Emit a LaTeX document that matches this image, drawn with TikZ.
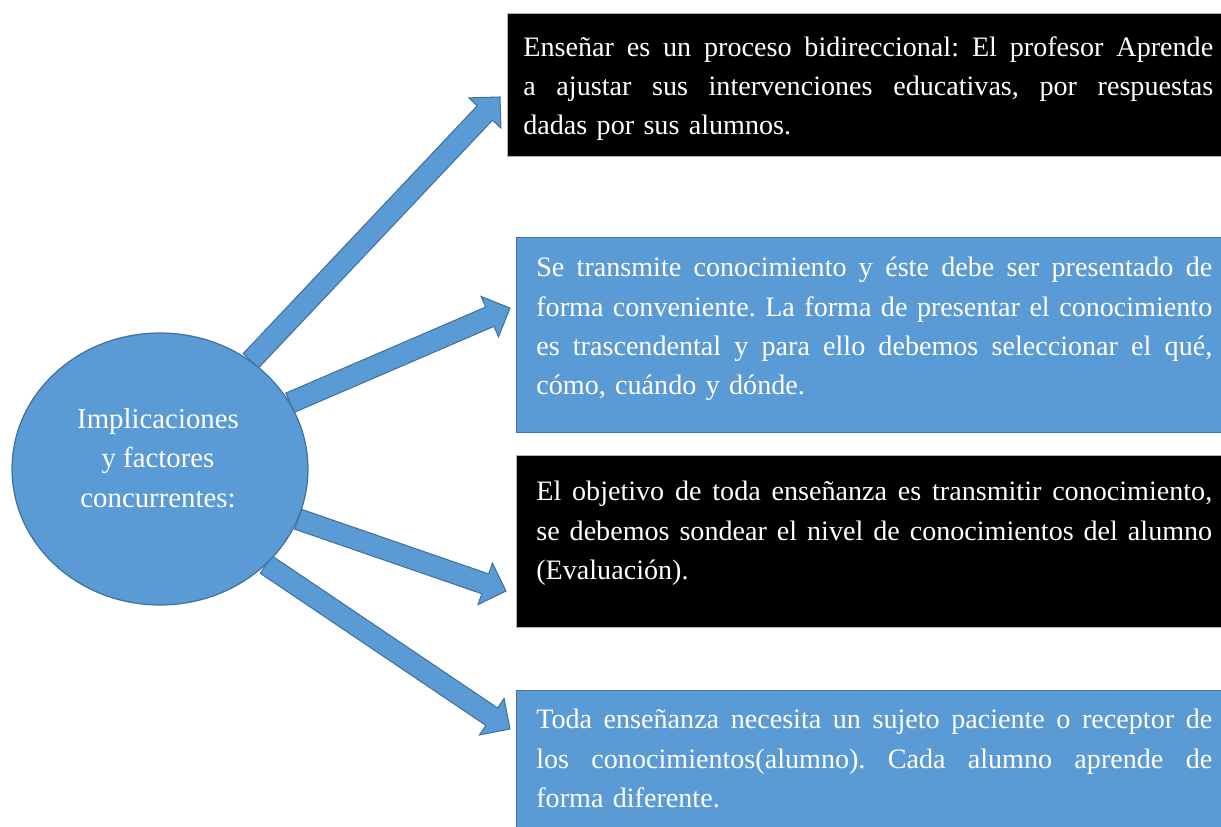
\documentclass[tikz,border=0pt]{standalone}
\usepackage{fontspec}
\setmainfont{Liberation Serif}
\usetikzlibrary{calc,shapes.geometric,backgrounds}
\setlength{\parindent}{0pt}
\definecolor{accentblue}{HTML}{5B9BD5}
\definecolor{accentedge}{HTML}{41719C}
\newcommand{\jl}[2][13.52cm]{\leavevmode\hbox to #1{\spaceskip=0.25em plus 0.8em minus 0.06em\relax #2}}
\newcommand{\fatarrow}[2]{%
  \filldraw[arrowfill] ($(#1)!0.21cm!90:(#2)$) -- ($(#2)!0.44cm!(#1)!0.21cm!-90:(#1)$)
    -- ($(#2)!0.44cm!(#1)!0.44cm!-90:(#1)$) -- (#2) -- ($(#2)!0.44cm!(#1)!0.44cm!90:(#1)$)
    -- ($(#2)!0.44cm!(#1)!0.21cm!90:(#1)$) -- ($(#1)!0.21cm!-90:(#2)$) -- cycle;}
\begin{document}
\begin{tikzpicture}[x=0.02cm,y=-0.02cm,
  bluebox/.style={draw=accentedge,fill=accentblue,line width=0.7pt,anchor=north west,inner sep=0,minimum width=14.4cm},
  blackbox/.style={draw=black!30,fill=black,line width=0.7pt,anchor=north west,inner sep=0,minimum width=14.4cm},
  boxtext/.style={text=white,anchor=north west,inner sep=0,text width=13.52cm,align=left,font=\fontsize{16}{22.3}\selectfont\frenchspacing},
  arrowfill/.style={fill=accentblue,draw=accentedge,line width=0.6pt,line join=miter}]
\useasboundingbox (0,0) rectangle (1221,827);

\node[ellipse,draw=accentedge,fill=accentblue,line width=0.7pt,inner sep=0,minimum width=5.92cm,minimum height=5.44cm] (circ) at (160,469) {};
\node[text=white,align=center,inner sep=0,font=\fontsize{16.4}{22.4}\selectfont] (lbl) at (158,458) {Implicaciones\\y factores\\concurrentes:};

\node[blackbox,minimum height=2.86cm] (b1) at (507,13) {};
\node[bluebox,minimum height=3.9cm] (b2) at (516,237) {};
\node[blackbox,minimum height=3.44cm] (b3) at (516,455) {};
\node[bluebox,minimum height=3.2cm] (b4) at (516,690) {};

\node[boxtext,text width=13.8cm] (t1) at (523,36) {\jl[13.8cm]{Enseñar es un proceso bidireccional: El profesor Aprende}\\
\jl[13.8cm]{a ajustar sus intervenciones educativas, por respuestas}\\
dadas por sus alumnos.};
\node[boxtext] (t2) at (536,257) {\jl{Se transmite conocimiento y éste debe ser presentado de}\\
\jl{forma conveniente. La forma de presentar el conocimiento}\\
\jl{es trascendental y para ello debemos seleccionar el qué,}\\
cómo, cuándo y dónde.};
\node[boxtext] (t3) at (536,481) {\jl{El objetivo de toda enseñanza es transmitir conocimiento,}\\
\jl{se debemos sondear el nivel de conocimientos del alumno}\\
(Evaluación).};
\node[boxtext] (t4) at (536,709) {\jl{Toda enseñanza necesita un sujeto paciente o receptor de}\\
\jl{los conocimientos(alumno). Cada alumno aprende de}\\
forma diferente.};

\coordinate (tip1) at (500,97);
\coordinate (tip2) at (510,308);
\coordinate (tip3) at (506,591);
\coordinate (tip4) at (510,729);

\begin{scope}[on background layer]
\fatarrow{circ.50}{tip1}
\fatarrow{circ.27}{tip2}
\fatarrow{circ.-20}{tip3}
\fatarrow{circ.-42}{tip4}
\end{scope}
\end{tikzpicture}
\end{document}
